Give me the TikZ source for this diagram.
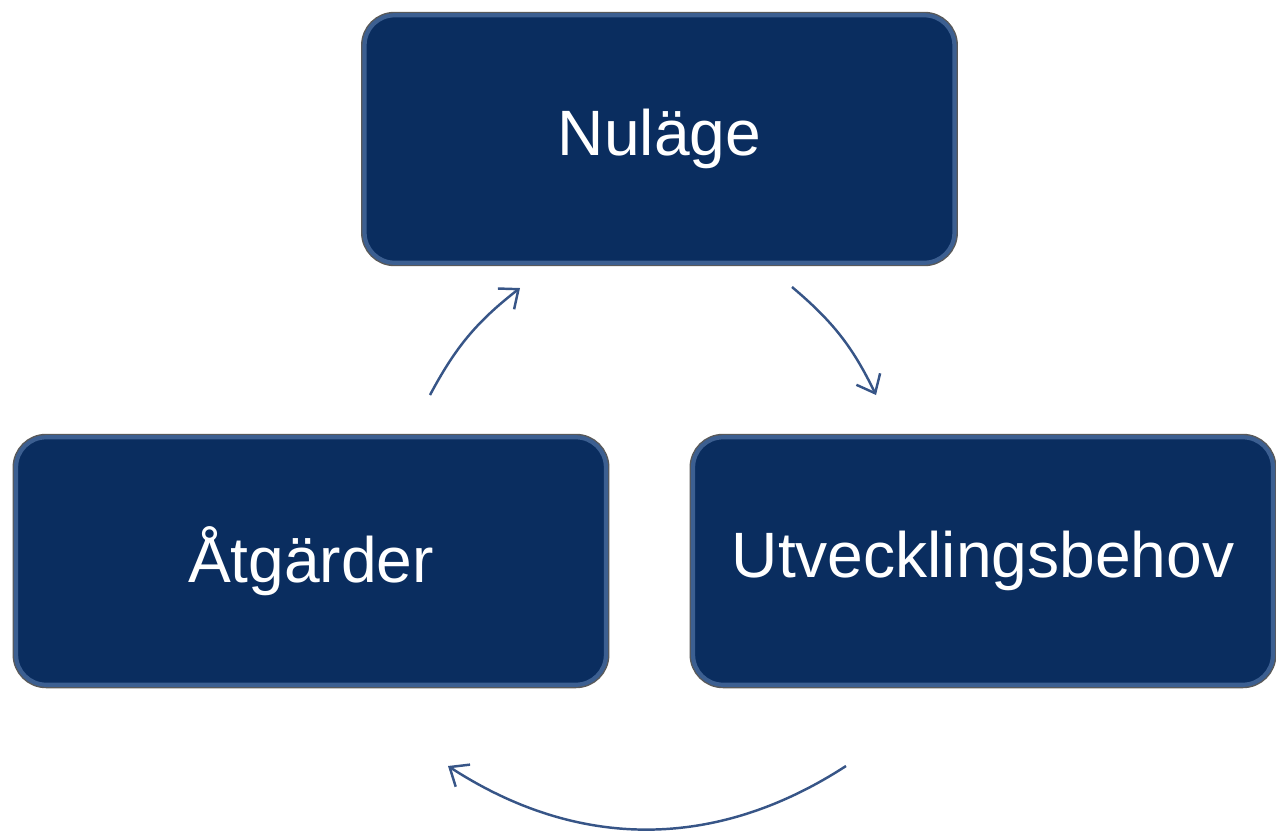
\documentclass[tikz,border=0pt]{standalone}
\usepackage{fontspec}
\setmainfont{Liberation Sans}
\usetikzlibrary{arrows.meta}
\definecolor{navy}{RGB}{10,45,95}
\definecolor{rim}{RGB}{60,95,145}
\definecolor{arrowblue}{RGB}{55,85,135}
\tikzset{
    navybox/.style={rounded corners=0.6cm,draw=rim,line width=2.4pt,fill=navy,minimum width=11.8cm,minimum height=4.95cm,align=center,text=white,font=\fontsize{36.5}{44}\selectfont,preaction={draw=black!65,line width=4pt}},
    cyclearrow/.style={draw=arrowblue,line width=1.4pt,-{Straight Barb[length=9pt,width=15pt,line width=1.4pt]}}
}

\begin{document}
\begin{tikzpicture}[x=0.02cm,y=-0.02cm]
        \useasboundingbox (0,0) rectangle (1276,833);
        %---
        \node[navybox] (nulage) at (659.5,139) {Nuläge};
        \node[navybox] (atgarder) at (311,561) {Åtgärder};
        \node[navybox,minimum width=11.6cm] (behov) at (983,561) {Utvecklingsbehov};

        \coordinate (a-start) at (430,395);
        \coordinate (a-end) at (520,288);
        \coordinate (b-start) at (792,287);
        \coordinate (b-end) at (876,395);
        \coordinate (c-start) at (846,766);
        \coordinate (c-end) at (448,766);

        \begin{scope}[every path/.style={cyclearrow}]
            \draw (a-start) to[bend left=12] (a-end);
            \draw (b-start) to[bend left=12] (b-end);
            \draw (c-start) to[bend left=33] (c-end);
        \end{scope}
    \end{tikzpicture}
\end{document}
